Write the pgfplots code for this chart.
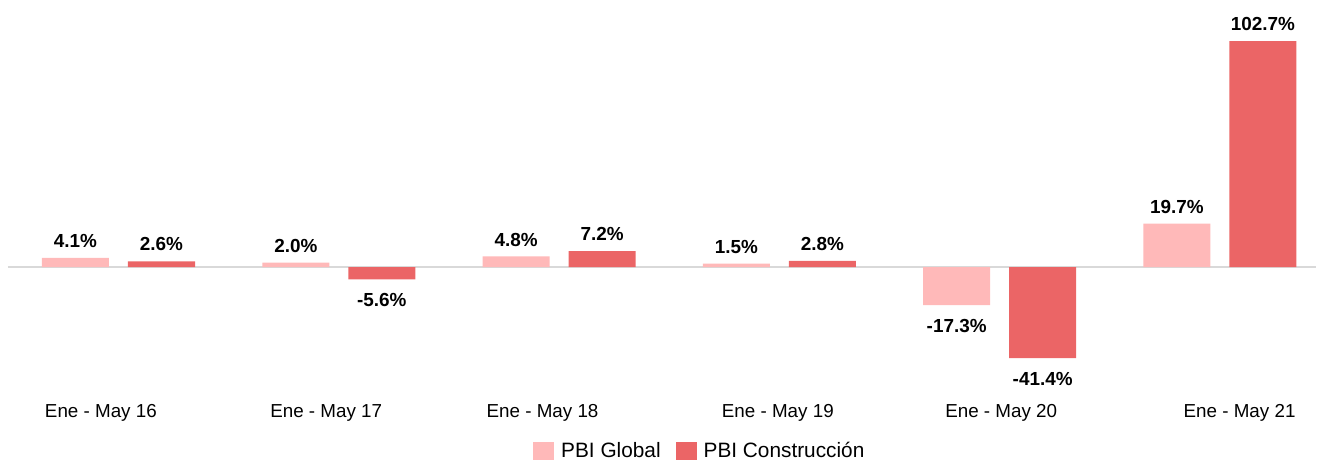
\documentclass[border=0pt]{standalone}
\usepackage{fontspec}
\setmainfont{Liberation Sans}
\usepackage{pgfplots}
\pgfplotsset{compat=1.18}
\definecolor{cglobal}{HTML}{FFB9B9}
\definecolor{cconst}{HTML}{EB6566}
\definecolor{czero}{HTML}{D9D9D9}
\begin{document}
\begin{tikzpicture}
\path[use as bounding box] (0,0) rectangle (1322pt,-461pt);
\begin{axis}[
  at={(8pt,-377pt)}, anchor=south west,
  scale only axis, width=1308pt, height=352pt,
  xmin=-0.5016, xmax=5.436, ymin=-50, ymax=110,
  ybar, bar width=67pt,
  axis line style={draw=none},
  major tick length=0pt,
  ytick=\empty,
  xtick={-0.080,0.943,1.925,2.993,4.007,5.089},
  xticklabels={Ene - May 16,Ene - May 17,Ene - May 18,Ene - May 19,Ene - May 20,Ene - May 21},
  xticklabel style={font=\fontsize{18.8}{22}\selectfont, inner sep=0pt, anchor=north, yshift=-27pt},
  extra y ticks={0}, extra y tick labels={},
  extra y tick style={ymajorgrids=true, major grid style={czero, line width=1.2pt}},
  nodes near coords={\pgfmathprintnumber[fixed,precision=1,fixed zerofill,assume math mode=true]{\pgfplotspointmeta}\%},
  nodes near coords align={vertical},
  every node near coord/.append style={font=\fontsize{18.9}{22}\selectfont\bfseries, inner xsep=0pt, inner ysep=12pt, yshift=-2pt, black},
  legend style={at={(0.4014,-0.2102)}, anchor=west, draw=none, fill=none, inner sep=0pt,
    font=\fontsize{20.8}{24}\selectfont, legend columns=2,
    /tikz/every even column/.append style={column sep=15pt},
    nodes={inner xsep=0pt, inner ysep=0pt}},
  legend image code/.code={\fill[#1] (0pt,-9pt) rectangle (21pt,9pt);},
]
\addplot[fill=cglobal, draw=none, bar shift=-43pt] coordinates {(0,4.1) (1,2.0) (2,4.8) (3,1.5) (4,-17.3) (5,19.7)};
\addplot[fill=cconst, draw=none, bar shift=43pt] coordinates {(0,2.6) (1,-5.6) (2,7.2) (3,2.8) (4,-41.4) (5,102.7)};
\legend{\hspace{7pt}PBI Global,\hspace{7pt}PBI Construcción}
\end{axis}
\end{tikzpicture}
\end{document}
